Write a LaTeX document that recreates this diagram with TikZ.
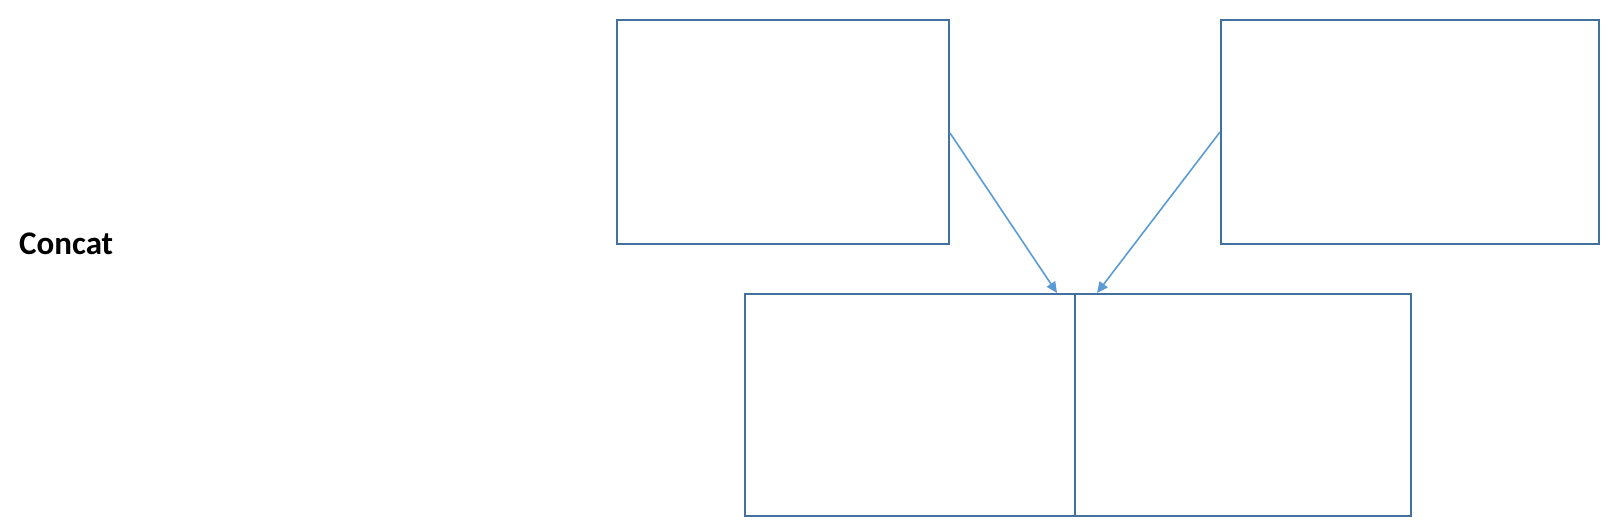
\documentclass[tikz,border=0pt]{standalone}
\usepackage{fontspec}
\setmainfont{Carlito}
\usetikzlibrary{arrows.meta}
\definecolor{boxblue}{HTML}{41719C}
\definecolor{arrblue}{HTML}{5B9BD5}
\begin{document}
\begin{tikzpicture}[x=1pt,y=-1pt,
  blk/.style={draw=boxblue,line width=2pt,inner sep=0pt},
  arr/.style={draw=arrblue,line width=1.6pt,-{Triangle[length=11pt,width=10pt]}}]
\useasboundingbox (0,0) rectangle (1616,530);
\node[anchor=west,font=\bfseries\fontsize{33}{38}\selectfont,inner sep=0pt] (lbl) at (19,244) {Concat};
\node[blk,minimum width=332pt,minimum height=224pt,anchor=north west] (a) at (616,19) {};
\node[blk,minimum width=378pt,minimum height=224pt,anchor=north west] (b) at (1220,19) {};
\node[blk,minimum width=330pt,minimum height=222pt,anchor=north west] (c1) at (744,293) {};
\node[blk,minimum width=336pt,minimum height=222pt,anchor=north west] (c2) at (1074,293) {};
\coordinate (a1) at ([yshift=-1pt]a.east);
\coordinate (b1) at (b.west);
\coordinate (t1) at (1057,293);
\coordinate (t2) at (1097,293);
\draw[arr] (a1) -- (t1);
\draw[arr] (b1) -- (t2);
\end{tikzpicture}
\end{document}
